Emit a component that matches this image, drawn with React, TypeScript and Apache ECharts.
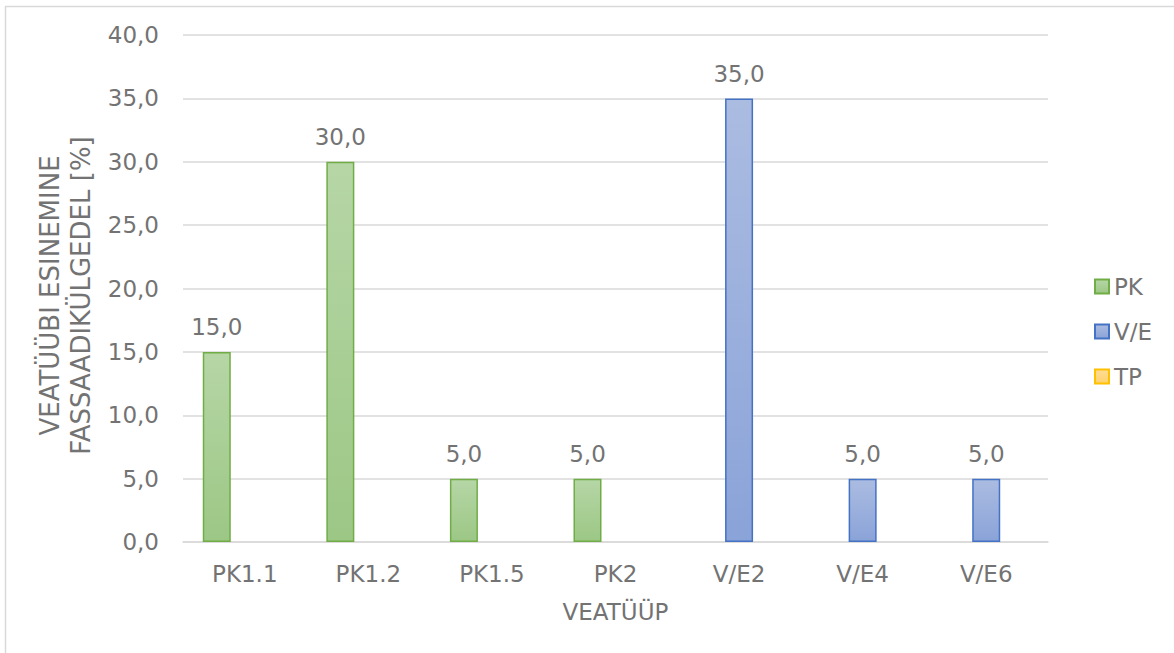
import React, { useEffect, useRef } from "react";
import * as echarts from "echarts";

// Categories along the x axis
const categories = ["PK1.1", "PK1.2", "PK1.5", "PK2", "V/E2", "V/E4", "V/E6"];

// Share of each defect type per series (null = no bar in that slot)
const pkValues = [15, 30, 5, 5, null, null, null];
const veValues = [null, null, null, null, 35, 5, 5];
const tpValues = [null, null, null, null, null, null, null];

const seriesNames = ["PK", "V/E", "TP"];

const yTicks = { min: 0, max: 40, interval: 5 };

const FONT = "DejaVu Sans";
const TEXT = "#737373";

const grad = (top: string, bottom: string) =>
  new echarts.graphic.LinearGradient(0, 0, 0, 1, [
    { offset: 0, color: top },
    { offset: 1, color: bottom },
  ]);

const fmt = (v: number) => v.toFixed(1).replace(".", ",");

export default function App() {
  const ref = useRef<HTMLDivElement>(null);

  useEffect(() => {
    if (!ref.current) return;
    const chart = echarts.init(ref.current, null, { renderer: "svg" });

    const styles = [
      { fill: grad("#b6d6a6", "#9cc785"), border: "#70ad47" },
      { fill: grad("#abbce1", "#8aa3d8"), border: "#4472c4" },
      { fill: grad("#ffdc96", "#ffd26c"), border: "#ffc000" },
    ];
    const data = [pkValues, veValues, tpValues];

    chart.setOption({
      animation: false,
      backgroundColor: "#ffffff",
      textStyle: { fontFamily: FONT, color: TEXT },
      graphic: [
        {
          type: "rect",
          shape: { x: 5.5, y: 6.5, width: 1400, height: 1000 },
          style: { fill: "none", stroke: "#d9d9d9", lineWidth: 1.5 },
          silent: true,
        },
      ],
      grid: { left: 183, right: 126, top: 35, bottom: 111 },
      legend: {
        orient: "vertical",
        left: 1089,
        top: 270,
        itemWidth: 14,
        itemHeight: 14,
        itemGap: 22,
        icon: "rect",
        data: seriesNames,
        textStyle: { fontFamily: FONT, fontSize: 23, color: TEXT },
      },
      xAxis: {
        type: "category",
        data: categories,
        name: "VEATÜÜP",
        nameLocation: "middle",
        nameGap: 58,
        nameTextStyle: { fontFamily: FONT, fontSize: 23, color: TEXT },
        axisLine: { lineStyle: { color: "#d9d9d9", width: 1.5 } },
        axisTick: { show: false },
        axisLabel: { fontFamily: FONT, fontSize: 23, color: TEXT, margin: 20 },
      },
      yAxis: {
        type: "value",
        min: yTicks.min,
        max: yTicks.max,
        interval: yTicks.interval,
        name: "VEATÜÜBI ESINEMINE\nFASSAADIKÜLGEDEL [%]",
        nameLocation: "middle",
        nameGap: 80,
        nameTextStyle: {
          fontFamily: FONT,
          fontSize: 26,
          color: TEXT,
          lineHeight: 31,
          padding: [0, 14, 0, 0],
        },
        axisLine: { show: false },
        axisTick: { show: false },
        axisLabel: {
          fontFamily: FONT,
          fontSize: 23,
          color: TEXT,
          margin: 24,
          formatter: (v: number) => fmt(v),
        },
        splitLine: { lineStyle: { color: "#d9d9d9", width: 1.5 } },
      },
      series: seriesNames.map((name, i) => ({
        name,
        type: "bar",
        data: data[i],
        barGap: "0%",
        barCategoryGap: "32%",
        itemStyle: {
          color: styles[i].fill,
          borderColor: styles[i].border,
          borderWidth: 1.5,
        },
        label: {
          show: true,
          position: "top",
          distance: 13,
          fontFamily: FONT,
          fontSize: 23,
          color: TEXT,
          formatter: (p: any) => (p.value == null ? "" : fmt(p.value)),
        },
      })),
    });

    return () => chart.dispose();
  }, []);

  return (
    <div
      ref={ref}
      style={{ position: "fixed", left: 0, top: 0, width: 1174, height: 653 }}
    />
  );
}
